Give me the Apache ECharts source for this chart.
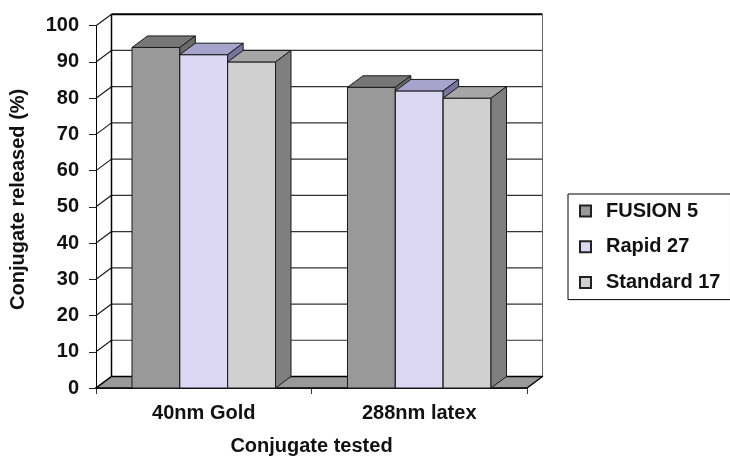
<!DOCTYPE html>
<html>
<head>
<meta charset="utf-8">
<style>
  html, body { margin: 0; padding: 0; background: #fff; }
  #chart { width: 730px; height: 461px; }
</style>
<script src="https://cdn.jsdelivr.net/npm/echarts@6/dist/echarts.min.js"></script>
</head>
<body>
<div id="chart"></div>
<script>
// Release of conjugate from three pad materials
const categories = ['40nm Gold', '288nm latex'];
const seriesNames = ['FUSION 5', 'Rapid 27', 'Standard 17'];
const fusion5 = [94, 83];
const rapid27 = [92, 82];
const standard17 = [90, 80];
const yTicks = [0, 10, 20, 30, 40, 50, 60, 70, 80, 90, 100];

// oblique depth offset of the 3D box (pixels)
const DX = 15.5;
const DY = -11.5;
const BAR_RATIO = 0.222;
const EDGE = '#1a1a1a';
const FONT = '"Liberation Sans", Arial, sans-serif';

// front / top / side shades per series
const shades = [
  { front: '#999999', top: '#777777', side: '#6a6a6a' },
  { front: '#dcd8f4', top: '#a7a3cc', side: '#77739a' },
  { front: '#d0d0d0', top: '#a6a6a6', side: '#7f7f7f' }
];

function bar3d(idx) {
  const c = shades[idx];
  return function (params, api) {
    const cat = api.value(0);
    const val = api.value(1);
    const band = api.size([1, 0])[0];
    const bw = band * BAR_RATIO;
    const base = api.coord([cat, 0]);
    const top = api.coord([cat, val]);
    const x0 = base[0] - 1.5 * bw + idx * bw;
    const x1 = x0 + bw;
    const yb = base[1];
    const yt = top[1];
    const st = (fill) => ({ fill: fill, stroke: EDGE, lineWidth: 1, lineJoin: 'round' });
    return {
      type: 'group',
      children: [
        { type: 'polygon', shape: { points: [[x0, yb], [x1, yb], [x1, yt], [x0, yt]] }, style: st(c.front) },
        { type: 'polygon', shape: { points: [[x0, yt], [x1, yt], [x1 + DX, yt + DY], [x0 + DX, yt + DY]] }, style: st(c.top) },
        { type: 'polygon', shape: { points: [[x1, yb], [x1 + DX, yb + DY], [x1 + DX, yt + DY], [x1, yt]] }, style: st(c.side) }
      ]
    };
  };
}

// walls, floor and gridlines of the 3D box
function frame(params, api) {
  const band = api.size([1, 0])[0];
  const xl = api.coord([0, 0])[0] - band / 2;
  const xr = api.coord([categories.length - 1, 0])[0] + band / 2;
  const y0 = api.coord([0, 0])[1];
  const yTop = api.coord([0, yTicks[yTicks.length - 1]])[1];
  const kids = [];
  kids.push({ type: 'rect', shape: { x: xl + DX, y: yTop + DY, width: xr - xl, height: y0 - yTop }, style: { fill: '#ffffff' } });
  yTicks.forEach(function (v) {
    const y = api.coord([0, v])[1];
    if (v > 0 && v < yTicks[yTicks.length - 1]) {
      kids.push({ type: 'line', shape: { x1: xl + DX, y1: y + DY, x2: xr + DX, y2: y + DY }, style: { stroke: '#333333', lineWidth: 1.2 } });
    }
    kids.push({ type: 'line', shape: { x1: xl, y1: y, x2: xl + DX, y2: y + DY }, style: { stroke: '#1a1a1a', lineWidth: 1.2 } });
  });
  // back-left edge, top edge, right edge
  kids.push({ type: 'line', shape: { x1: xl + DX, y1: yTop + DY, x2: xl + DX, y2: y0 + DY }, style: { stroke: '#000', lineWidth: 1.5 } });
  kids.push({ type: 'line', shape: { x1: xl + DX, y1: yTop + DY, x2: xr + DX, y2: yTop + DY }, style: { stroke: '#000', lineWidth: 2 } });
  kids.push({ type: 'line', shape: { x1: xr + DX, y1: yTop + DY, x2: xr + DX, y2: y0 + DY }, style: { stroke: '#666', lineWidth: 1 } });
  // floor
  kids.push({
    type: 'polygon',
    shape: { points: [[xl, y0], [xl + DX, y0 + DY], [xr + DX, y0 + DY], [xr, y0]] },
    style: { fill: '#999999', stroke: '#000', lineWidth: 1.5, lineJoin: 'round' }
  });
  return { type: 'group', children: kids };
}

const values = [fusion5, rapid27, standard17];

const chart = echarts.init(document.getElementById('chart'), null, { renderer: 'canvas' });
chart.setOption({
  animation: false,
  backgroundColor: '#ffffff',
  textStyle: { fontFamily: FONT },
  grid: { left: 96, right: 203, top: 25.7, bottom: 66.5, containLabel: false },
  legend: {
    data: seriesNames,
    orient: 'vertical',
    left: 568,
    top: 194,
    padding: [7, 10, 7, 11],
    borderColor: '#000',
    borderWidth: 1,
    itemWidth: 11,
    itemHeight: 11,
    itemGap: 15.8,
    icon: 'rect',
    textStyle: { fontFamily: FONT, fontWeight: 'bold', fontSize: 20, color: '#111', lineHeight: 20, padding: [0, 0, 0, 10] }
  },
  xAxis: {
    type: 'category',
    data: categories,
    name: 'Conjugate tested',
    nameLocation: 'middle',
    nameGap: 48,
    nameTextStyle: { fontFamily: FONT, fontWeight: 'bold', fontSize: 20, color: '#111' },
    axisLine: { lineStyle: { color: '#000', width: 1.5 } },
    axisTick: { show: true, length: 6, lineStyle: { color: '#333' } },
    axisLabel: { margin: 15, fontFamily: FONT, fontWeight: 'bold', fontSize: 20, color: '#111' },
    splitLine: { show: false }
  },
  yAxis: {
    type: 'value',
    min: 0,
    max: 100,
    interval: 10,
    name: 'Conjugate released (%)',
    nameLocation: 'middle',
    nameRotate: 90,
    nameGap: 68,
    nameTextStyle: { fontFamily: FONT, fontWeight: 'bold', fontSize: 20, color: '#111', padding: [0, 0, 0, 15] },
    axisLine: { show: true, lineStyle: { color: '#000', width: 1 } },
    axisTick: { show: true, length: 7, lineStyle: { color: '#222' } },
    axisLabel: { margin: 17, fontFamily: FONT, fontWeight: 'bold', fontSize: 20, color: '#111' },
    splitLine: { show: false }
  },
  series: [
    {
      type: 'custom',
      name: 'frame',
      z: 1,
      silent: true,
      renderItem: frame,
      encode: { x: 0, y: 1 },
      data: [[0, 0]]
    }
  ].concat(seriesNames.map(function (name, i) {
    return {
      type: 'custom',
      name: name,
      z: 3,
      renderItem: bar3d(i),
      encode: { x: 0, y: 1 },
      itemStyle: { color: shades[i].front, borderColor: '#222', borderWidth: 1 },
      data: values[i].map(function (v, k) { return [k, v]; })
    };
  }))
});
</script>
</body>
</html>
